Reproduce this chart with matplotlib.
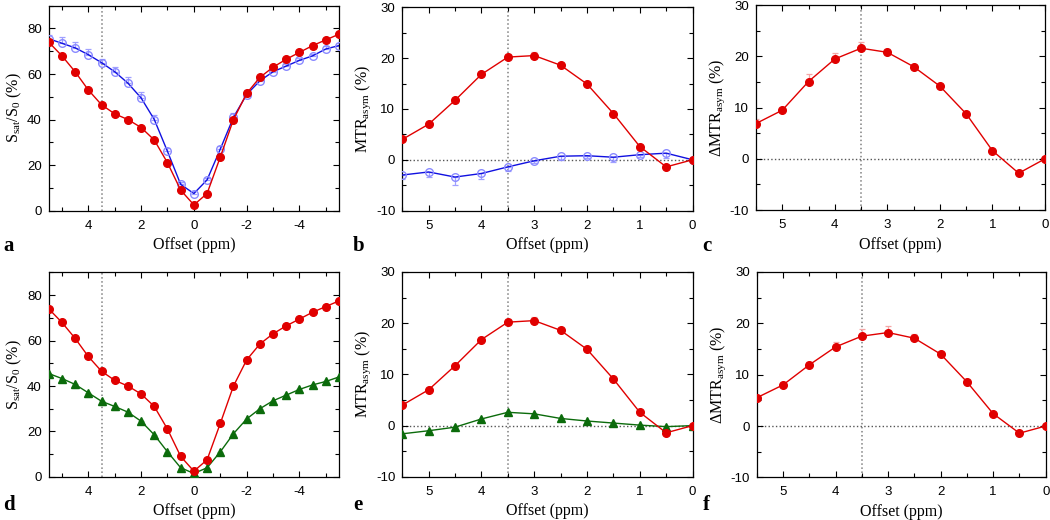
import matplotlib
matplotlib.use("Agg")
import matplotlib.pyplot as plt
from matplotlib.ticker import MultipleLocator
import numpy as np

# z-spectra offsets (ppm) and MTRasym offsets
offs_full = [5.5, 5.0, 4.5, 4.0, 3.5, 3.0, 2.5, 2.0, 1.5, 1.0, 0.5, 0.0,
             -0.5, -1.0, -1.5, -2.0, -2.5, -3.0, -3.5, -4.0, -4.5, -5.0, -5.5]
offs_half = [5.5, 5.0, 4.5, 4.0, 3.5, 3.0, 2.5, 2.0, 1.5, 1.0, 0.5, 0.0]

# panel a / d: Ssat/S0 (%)
z_red = [74, 68, 61, 53, 46.5, 42.5, 40, 36.5, 31, 21, 9, 2.5,
         7.5, 23.5, 40, 51.5, 58.5, 63, 66.5, 69.5, 72.5, 75, 77.5]
z_red_err = [0.5, 0.5, 0.5, 0.5, 0.5, 0.5, 0.5, 0.5, 0.5, 0.5, 0.5, 0.3,
             0.3, 0.5, 0.5, 0.5, 0.5, 0.5, 0.5, 0.5, 0.5, 0.5, 0.5]
z_blue = [75.5, 73.5, 71.5, 68.5, 65, 61, 56, 49.5, 40, 26, 11.5, 7.5,
          13.5, 27, 41, 51, 57, 61, 63.5, 66, 68, 71, 72.5]
z_blue_err = [1.5, 2.9, 2.5, 2.3, 1.5, 2.2, 2.5, 2.6, 2.0, 1.5, 1.0, 1.0,
              1.0, 1.5, 2.0, 2.0, 1.5, 1.0, 1.0, 1.0, 1.0, 1.2, 1.2]
z_green = [45.5, 43.3, 40.7, 37, 33.3, 31, 28.5, 24.5, 18.5, 11, 4, 1.5,
           4, 11, 19, 25.5, 30, 33.5, 36, 38.5, 40.5, 42, 44]
z_green_err = [1.0, 1.5, 1.5, 1.8, 1.8, 1.5, 1.2, 1.0, 0.8, 0.6, 0.5, 0.3,
               0.5, 0.6, 0.8, 1.0, 1.2, 1.2, 1.2, 1.5, 1.5, 1.2, 1.0]

# panel b / e: MTRasym (%)
mtr_red = [4.0, 7.0, 11.7, 16.8, 20.2, 20.5, 18.6, 14.9, 9.1, 2.6, -1.4, 0.0]
mtr_red_err = [0.3, 0.3, 0.4, 0.5, 0.6, 0.8, 0.5, 0.4, 0.4, 0.3, 0.3, 0.0]
mtr_blue = [-3.0, -2.4, -3.4, -2.7, -1.4, -0.2, 0.7, 0.8, 0.5, 1.0, 1.3, 0.0]
mtr_blue_err = [0.8, 1.0, 1.6, 1.0, 0.8, 0.5, 0.8, 0.5, 1.0, 0.5, 1.0, 0.0]
mtr_green = [-1.6, -1.0, -0.3, 1.3, 2.6, 2.3, 1.4, 0.9, 0.5, 0.1, -0.2, 0.0]
mtr_green_err = [0.3, 0.3, 0.3, 0.3, 0.3, 0.3, 0.3, 0.3, 0.3, 0.2, 0.2, 0.0]

# panel c / f: delta MTRasym (%)
dmtr_c = [6.9, 9.5, 15.1, 19.5, 21.6, 20.8, 18.0, 14.2, 8.8, 1.6, -2.8, 0.0]
dmtr_c_err = [0.9, 0.4, 1.5, 1.2, 1.2, 0.6, 0.4, 0.4, 0.5, 0.3, 0.3, 0.0]
dmtr_f = [5.5, 8.0, 11.9, 15.4, 17.5, 18.2, 17.1, 14.0, 8.6, 2.4, -1.4, 0.0]
dmtr_f_err = [0.4, 0.5, 0.5, 1.0, 1.4, 1.3, 0.9, 0.4, 0.4, 0.3, 0.3, 0.0]

RED, RED_E = "#e00000", "#f4a6a6"
BLUE, BLUE_M, BLUE_E = "#1010e0", "#8a8aff", "#a0a0ff"
GREEN, GREEN_E = "#0b6b0b", "#9fcf9f"

plt.rcParams["axes.unicode_minus"] = False
plt.rcParams["mathtext.fontset"] = "custom"
plt.rcParams["mathtext.rm"] = "Liberation Serif"
plt.rcParams["mathtext.it"] = "Liberation Serif:italic"
plt.rcParams["font.family"] = "Liberation Sans"

SERIF = "Liberation Serif"


def err(vals, up=True):
    z = np.zeros(len(vals))
    return [z, vals] if up else [vals, z]


def style(ax, xlim, xmaj, xmin, ylim, ymaj, ymin, ylabel, hline=True):
    ax.set_xlim(*xlim)
    ax.set_ylim(*ylim)
    ax.xaxis.set_major_locator(MultipleLocator(xmaj))
    ax.xaxis.set_minor_locator(MultipleLocator(xmin))
    ax.yaxis.set_major_locator(MultipleLocator(ymaj))
    ax.yaxis.set_minor_locator(MultipleLocator(ymin))
    ax.tick_params(which="both", direction="in", top=True, right=True,
                   labelsize=9.5)
    ax.tick_params(axis="x", pad=6.5)
    ax.tick_params(axis="y", pad=5)
    ax.tick_params(which="major", length=4.5, width=0.8)
    ax.tick_params(which="minor", length=3, width=0.8)
    for s in ax.spines.values():
        s.set_linewidth(0.9)
    ax.axvline(3.5, color="#808080", ls=":", lw=1.1, zorder=0)
    if hline:
        ax.axhline(0, color="#555555", ls=":", lw=1.0, zorder=0)
    ax.set_xlabel("Offset (ppm)", family=SERIF, fontsize=11.5, labelpad=4)
    ax.set_ylabel(ylabel, family=SERIF, fontsize=11.5, labelpad=2)


def series(ax, x, y, e, color, ecolor, marker="o", up=True, mfc=None,
           mec=None, lcolor=None, z=3):
    ax.errorbar(x, y, yerr=err(e, up), fmt="none", ecolor=ecolor,
                elinewidth=0.9, capsize=2, capthick=0.9, zorder=z - 1)
    ax.plot(x, y, color=lcolor or color, lw=1.0, marker=marker,
            markersize=5.5, markerfacecolor=mfc or color,
            markeredgecolor=mec or color, markeredgewidth=1.0, zorder=z)


fig = plt.figure(figsize=(10.5, 5.2), dpi=100)
W, H = 0.2765, 0.394
ax_a = fig.add_axes([0.0464, 0.595, W, H])
ax_b = fig.add_axes([0.3831, 0.595, W, 0.391])
ax_c = fig.add_axes([0.7200, 0.596, 0.2752, H])
ax_d = fig.add_axes([0.0464, 0.083, W, 0.393])
ax_e = fig.add_axes([0.3831, 0.083, W, H])
ax_f = fig.add_axes([0.7207, 0.082, 0.2752, 0.395])

zlab = r"S$_\mathrm{sat}$/S$_\mathrm{0}$ (%)"
mlab = r"MTR$_\mathrm{asym}$ (%)"
dlab = "\u0394" + r"MTR$_\mathrm{asym}$ (%)"

# a
series(ax_a, offs_full, z_blue, z_blue_err, BLUE, BLUE_E, mfc="none",
       mec=BLUE_M, lcolor=BLUE, z=3)
series(ax_a, offs_full, z_red, z_red_err, RED, RED_E, z=5)
style(ax_a, (5.5, -5.5), 2, 1, (0, 90), 20, 10, zlab, hline=False)

# b
series(ax_b, offs_half, mtr_blue, mtr_blue_err, BLUE, BLUE_E, up=False,
       mfc="none", mec=BLUE_M, lcolor=BLUE, z=3)
series(ax_b, offs_half, mtr_red, mtr_red_err, RED, RED_E, z=5)
style(ax_b, (5.5, 0), 1, 0.5, (-10, 30), 10, 5, mlab)

# c
series(ax_c, offs_half, dmtr_c, dmtr_c_err, RED, RED_E)
style(ax_c, (5.5, 0), 1, 0.5, (-10, 30), 10, 5, dlab)

# d
series(ax_d, offs_full, z_green, z_green_err, GREEN, GREEN_E, marker="^",
       up=False, z=3)
series(ax_d, offs_full, z_red, z_red_err, RED, RED_E, z=5)
style(ax_d, (5.5, -5.5), 2, 1, (0, 90), 20, 10, zlab, hline=False)

# e
series(ax_e, offs_half, mtr_green, mtr_green_err, GREEN, GREEN_E,
       marker="^", up=False, z=3)
series(ax_e, offs_half, mtr_red, mtr_red_err, RED, RED_E, z=5)
style(ax_e, (5.5, 0), 1, 0.5, (-10, 30), 10, 5, mlab)

# f
series(ax_f, offs_half, dmtr_f, dmtr_f_err, RED, RED_E)
style(ax_f, (5.5, 0), 1, 0.5, (-10, 30), 10, 5, dlab)

# panel letters (figure coords, baseline)
for letter, x, y in [("a", 0.003, 0.518), ("b", 0.336, 0.518),
                     ("c", 0.669, 0.518), ("d", 0.003, 0.020),
                     ("e", 0.336, 0.020), ("f", 0.669, 0.020)]:
    fig.text(x, y, letter, family=SERIF, fontsize=15, fontweight="bold",
             va="baseline", ha="left")

fig.savefig("out.png", dpi=100)
plt.close(fig)
